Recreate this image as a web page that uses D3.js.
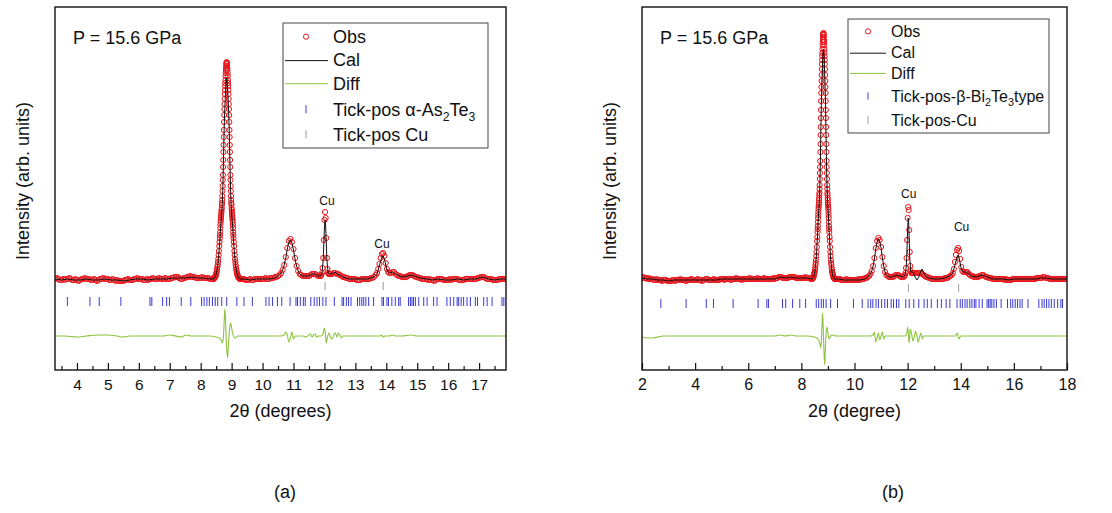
<!DOCTYPE html>
<html>
<head>
<meta charset="utf-8">
<script src="https://cdn.jsdelivr.net/npm/d3@7"></script>
<style>
  body { margin: 0; background: #fff; }
  text { font-family: "Liberation Sans", Arial, sans-serif; fill: #111; }
</style>
</head>
<body>
<div id="chart"></div>
<script>
// ---------------- data (2θ in degrees, intensity in arb. units) ----------------

// observed profile, panel (a): [start 2θ, step, values]
const obsA = [
  [3.3, 0.05, [1,2,1,0,0,1,0,1,1,2, 1,0,0,1,0,-1,0,1,1,2, 1,1,1,0,0,1,0,-1,0,1, 1,2,1,1,1,0,0,1,0,-1,
               0,-1,-1,-1,-1,0,0,1,0,0, 0,1,1,2,1,1,1,0,0,1, 0,1,1,2,1,1,1,2,1,1, 1,2,1,1,1,2,2,3,3,3,
               2,1,1,2,2,3,3,4,3,3, 3,2,2,2,2,3,2,2,2,2, 1,1]],
  [8.4, 0.01, [1,1,1,2,2,2,3,3,4,5, 6,7,9,11,13,15,18,21,25,29, 34,38]],
  [8.62, 0.005, [42,45,48,52,55,58,60,62,64,66,68,70,72,75,77,80,84,89,94,100,105,113,120,128,135,143,150,
                 158,165,171,176,181,186,190,194,197,200,204,207,210,212,214,216,217, 218,
                 217,216,214,212,210,207,204,200,197,194,190,186,181,176,171,165,158,150,143,135,128,120,
                 113,105,100,94,89,84,80,77,75,72,70,68,66,64,62,60,58,55,52,48,45,42]],
  [9.07, 0.01, [38,34,29,25,21,18,15,13,11,9, 7,6,5,4,3,3,2,2,2,1, 1,1,1,1]],
  [9.35, 0.05, [1,1,0,0,0,1,0,0,1,1, 1,1,1,1,1,2,1,1,2,2, 2,3,3]],
  [10.5, 0.05, [4,5,7,10,15,23,32,39,41,38,31,22,14,9,6,5,4,4]],
  [11.4, 0.05, [4,4,4,5,6,6,6,5,4,4]],
  [11.88, 0.02, [4,5,7,12,22,40,60,68,62,42,22,11,7,6,6,6,6]],
  [12.25, 0.05, [6,7,7,6,6,5,4,3,3]],
  [12.7, 0.05, [2,2,1,1,1,1,1,0,0,0, 1,1,1,1,1,1,2,2,3]],
  [13.66, 0.04, [5,7,11,16,22,26,27,24,17,11,8,7]],
  [14.15, 0.05, [7,8,8,6,5]],
  [14.4, 0.05, [4,4,3,3,3,3,4,5,5,5, 4,3,3,2,2,1,1,1,1,0, 1,0,0,-1,0,1,1,1,1,0, 0,0,0,1,0,1,1,1,1,0,
                0,0,0,1,1,1,1,1,1,1, 1,2,2,3,3,3,2,1,1,1, 1,0,0,0,0,1,1,1,1,1]]
];

const calA = [
  [3.3,1],[3.5,0],[3.7,1],[3.9,0],[4.1,0],[4.3,1],[4.5,0],[4.7,0],[4.9,1],[5.1,0],[5.3,0],[5.5,-1],[5.7,0],
  [5.9,1],[6.1,1],[6.3,0],[6.5,1],[6.7,1],[6.9,1],[7.1,2],[7.3,2],[7.5,2],[7.7,3],[7.9,2],[8.1,2],[8.3,1],
  [8.40,1],[8.42,1],[8.44,2],[8.46,3],[8.48,4],[8.50,6],[8.52,8],[8.54,12],[8.56,17],[8.58,23],[8.60,32],
  [8.62,39],[8.64,51],[8.66,59],[8.68,67],[8.70,78],[8.72,97],[8.74,125],[8.76,153],[8.78,172],[8.80,186],
  [8.82,197],[8.84,202],[8.86,197],[8.88,186],[8.90,172],[8.92,153],[8.94,125],[8.96,97],[8.98,78],[9.00,67],
  [9.02,59],[9.04,51],[9.06,39],[9.08,32],[9.10,23],[9.12,17],[9.14,12],[9.16,8],[9.18,6],[9.20,4],[9.22,3],
  [9.24,2],[9.26,1],[9.28,1],
  [9.4,1],[9.6,0],[9.8,1],[10.0,1],[10.2,1],[10.4,2],[10.5,4],[10.6,7],[10.65,10],[10.7,15],[10.75,22],
  [10.8,31],[10.85,38],[10.9,40],[10.95,37],[11.0,30],[11.05,21],[11.1,14],[11.15,9],[11.2,6],[11.3,4],
  [11.4,4],[11.5,4],[11.6,6],[11.7,6],[11.8,4],[11.88,4],[11.92,6],[11.96,20],[12.0,52],[12.02,60],
  [12.04,54],[12.08,20],[12.12,7],[12.16,6],[12.2,6],[12.3,7],[12.35,8],[12.4,6],[12.5,5],[12.6,3],[12.8,1],
  [13.0,1],[13.2,1],[13.4,1],[13.6,3],[13.7,6],[13.78,15],[13.86,23],[13.9,24],[13.94,21],[14.02,10],
  [14.1,7],[14.2,8],[14.3,6],[14.5,3],[14.7,4],[14.8,5],[14.9,4],[15.1,2],[15.3,1],[15.5,0],[15.7,1],
  [15.9,0],[16.1,0],[16.3,1],[16.5,0],[16.7,1],[16.9,1],[17.1,3],[17.3,1],[17.5,0],[17.7,1],[17.87,1]
];

const diffA = [
  [3.3,0],[3.6,0],[4.0,-1],[4.3,0],[4.7,1],[5.0,1],[5.3,0],[5.5,-1],[5.7,0],[6.0,0],[6.3,0],[6.5,0],
  [6.8,0],[7.0,1],[7.2,0],[7.4,-1],[7.5,1],[7.7,0],[7.9,0],[8.1,0],[8.3,0],[8.5,-1],[8.6,-2],[8.66,-4],
  [8.70,-7],[8.73,-3],[8.76,15],[8.78,27],[8.80,18],[8.82,0],[8.84,-12],[8.87,-22],[8.89,-12],[8.92,2],
  [8.95,11],[8.97,13],[9.0,8],[9.03,3],[9.07,-1],[9.12,-2],[9.2,0],[9.4,0],[9.6,0],[9.8,0],[10.0,0],
  [10.2,0],[10.4,0],[10.6,0],[10.7,1],[10.75,4],[10.8,1],[10.85,-6],[10.9,-2],[10.95,4],[11.0,-3],
  [11.05,0],[11.1,0],[11.2,0],[11.3,0],[11.4,-1],[11.5,1],[11.55,2],[11.6,-1],[11.65,1],[11.7,2],
  [11.75,-1],[11.8,0],[11.9,0],[11.95,2],[12.0,8],[12.03,2],[12.06,-7],[12.1,-1],[12.15,3],[12.2,-2],
  [12.25,-3],[12.3,1],[12.35,3],[12.4,-1],[12.45,3],[12.5,1],[12.55,-2],[12.6,0],[12.8,0],[13.0,0],
  [13.2,0],[13.5,0],[13.8,0],[13.85,1],[13.9,-1],[13.95,0],[14.1,0],[14.2,1],[14.3,0],[14.5,0],[14.8,1],
  [15.0,0],[15.5,0],[16.0,0],[16.5,0],[17.0,0],[17.87,0]
];

const phaseTicksA = [3.69,4.42,4.72,5.42,6.36,6.42,6.77,6.90,6.99,7.37,7.68,8.03,8.11,8.20,8.28,8.38,8.47,
  8.55,8.68,8.84,9.17,9.40,9.67,10.11,10.21,10.32,10.48,10.62,10.89,11.08,11.13,11.22,11.32,11.38,11.56,
  11.67,11.76,11.84,11.95,12.05,12.32,12.57,12.62,12.71,12.78,12.86,13.07,13.14,13.21,13.27,13.34,13.43,
  13.59,13.86,13.91,14.02,14.07,14.18,14.29,14.40,14.45,14.72,14.78,14.83,14.88,14.94,15.05,15.21,15.32,
  15.53,15.64,15.96,16.07,16.18,16.29,16.34,16.42,16.50,16.61,16.72,16.88,16.95,17.15,17.26,17.42,17.74,17.80];
const cuTicksA = [12.02, 13.9];
const cuLabelsA = [[12.08, 75], [13.86, 32]];

// observed profile, panel (b)
const obsB = [
  [2.0, 0.05, [2,3,2,2,1,2,1,1,1,0, 0,1,0,0,0,-1,0,0,0,-1, -1,-1,-1,0,0,-1,0,0,0,1, 0,0,0,-1,0,0,0,1,0,0,
               0,0,1,0,0,-1,0,0,1,1, 0,0,0,0,1,0,0,0,0,1, 1,1,0,1,1,1,1,0,1,1, 1,2,1,1,1,0,1,1,1,1,
               1,2,1,1,1,1,1,2,1,1, 1,1,2,1,1,1,1,1,1,2, 1,2,2,3,3,3,2,2,2,2, 2,3,3,3,3,3,2,2,2,2,
               2,2,2,3,2,2,2,1]],
  [8.4, 0.01, [1,1,2,2,2,3,3,5,6,7, 8,10,12,15,17,20,24,28,33,39, 43]],
  [8.61, 0.005, [48,51,54,58,62,65,68,71,73,75,77,80,82,85,87,91,95,101,107,113,119,128,136,145,153,162,170,
                 179,187,193,199,205,211,216,220,224,227,231,235,238,240,243,245,246, 247,
                 246,245,243,240,238,235,231,227,224,220,216,211,205,199,193,187,179,170,162,153,145,136,
                 128,119,113,107,101,95,91,87,85,82,80,77,75,73,71,68,65,62,58,54,51,48]],
  [9.06, 0.01, [43,39,33,28,24,20,17,15,12,10, 8,7,6,5,3,3,2,2,2,1, 1,1,1,1,1]],
  [9.35, 0.05, [1,1,1,0,0,0,0,1,0,0, 0,0,0,0,0,0,1,0,1,1, 1,2,2]],
  [10.5, 0.05, [3,4,6,9,14,22,32,39,42,40,33,23,14,8,5,4,3,3]],
  [11.4, 0.05, [3,3,4,5,5,5,4,3,3,3]],
  [11.88, 0.02, [4,5,7,12,22,40,62,73,70,50,28,14,9,7,7,7,7]],
  [12.25, 0.05, [7,7,7,7,7,7,6,5,4,3]],
  [12.75, 0.05, [3,2,2,1,1,1,1,1,1,1, 1,1,1,2,2,2,3,4]],
  [13.66, 0.04, [5,7,11,18,25,30,32,29,21,13,9,8]],
  [14.15, 0.05, [8,8,8,6,5]],
  [14.4, 0.05, [4,4,3,3,3,3,4,4,5,5, 4,3,3,2,2,2,1,1,1,1, 1,1,1,1,1,0,1,0,0,0, 0,1,1,1,1,1,1,1,1,1,
                1,1,1,1,1,1,1,1,1,2, 2,2,2,2,3,3,2,2,2,1, 1,1,1,1,1,1,1,1,1,1, 1,1,1]]
];

const calB = [
  [2.0,2],[2.2,1],[2.4,1],[2.6,0],[2.8,0],[3.0,-1],[3.2,0],[3.4,0],[3.6,0],[3.8,0],[4.0,0],[4.2,0],[4.4,0],
  [4.6,0],[4.8,0],[5.0,1],[5.2,1],[5.4,1],[5.6,1],[5.8,1],[6.0,1],[6.2,1],[6.4,1],[6.6,1],[6.8,1],[7.0,1],
  [7.2,3],[7.4,2],[7.6,3],[7.8,2],[8.0,2],[8.2,2],
  [8.39,1],[8.41,1],[8.43,2],[8.45,3],[8.47,4],[8.49,6],[8.51,9],[8.53,14],[8.55,19],[8.57,26],[8.59,36],
  [8.61,45],[8.63,58],[8.65,68],[8.67,77],[8.69,89],[8.71,111],[8.73,143],[8.75,175],[8.77,197],[8.79,212],
  [8.81,224],[8.83,231],[8.85,224],[8.87,212],[8.89,197],[8.91,175],[8.93,143],[8.95,111],[8.97,89],
  [8.99,77],[9.01,68],[9.03,58],[9.05,45],[9.07,36],[9.09,26],[9.11,19],[9.13,14],[9.15,9],[9.17,6],
  [9.19,4],[9.21,3],[9.23,2],[9.25,1],[9.27,1],
  [9.4,1],[9.6,0],[9.8,0],[10.0,0],[10.2,0],[10.4,1],[10.5,3],[10.6,6],[10.65,9],[10.7,14],[10.75,21],
  [10.8,31],[10.85,38],[10.9,41],[10.95,39],[11.0,32],[11.05,22],[11.1,14],[11.15,8],[11.2,5],[11.3,3],
  [11.4,3],[11.5,4],[11.6,5],[11.7,4],[11.8,3],[11.88,4],[11.92,6],[11.96,18],[12.0,50],[12.02,62],
  [12.04,58],[12.08,22],[12.12,8],[12.2,8],[12.28,3],[12.35,0],[12.42,3],[12.5,9],[12.55,11],[12.6,7],
  [12.7,3],[12.8,2],[13.0,1],[13.2,1],[13.4,2],[13.6,4],[13.7,7],[13.78,15],[13.86,23],[13.9,25],
  [13.94,22],[14.02,11],[14.1,8],[14.2,8],[14.3,6],[14.4,4],[14.6,3],[14.8,5],[15.0,3],[15.2,1],[15.4,1],
  [15.6,1],[15.8,0],[16.0,1],[16.2,1],[16.4,1],[16.6,1],[16.8,1],[17.0,2],[17.2,2],[17.4,1],[17.6,1],
  [17.8,1],[18.0,1]
];

const diffB = [
  [2.0,-1],[2.2,-2],[2.4,-2],[2.6,-1],[2.8,0],[3.2,0],[3.6,0],[4.0,0],[4.5,0],[5.0,0],[5.5,0],[6.0,0],
  [6.5,0],[7.0,0],[7.2,1],[7.4,0],[7.6,1],[7.8,0],[8.2,0],[8.5,-1],[8.62,-3],[8.7,-8],[8.73,-12],[8.76,0],
  [8.79,20],[8.8,23],[8.82,10],[8.85,-15],[8.88,-29],[8.9,-15],[8.93,2],[8.96,9],[8.98,7],[9.02,-1],
  [9.05,-3],[9.1,0],[9.2,1],[9.3,0],[9.5,0],[9.8,0],[10.0,0],[10.3,0],[10.6,0],[10.7,1],[10.75,4],
  [10.8,-6],[10.85,-2],[10.9,3],[10.95,-4],[11.0,0],[11.05,4],[11.1,-3],[11.15,0],[11.3,0],[11.5,0],
  [11.7,0],[11.9,0],[11.97,3],[12.0,9],[12.03,2],[12.05,-7],[12.08,0],[12.1,7],[12.15,2],[12.2,-5],
  [12.25,-1],[12.3,5],[12.35,0],[12.4,-6],[12.45,-1],[12.5,3],[12.55,-3],[12.6,0],[12.8,0],[13.0,0],
  [13.3,0],[13.6,0],[13.8,0],[13.87,3],[13.93,-3],[14.0,0],[14.3,0],[14.6,0],[15.0,0],[15.5,0],[16.0,0],
  [16.5,0],[17.0,0],[17.5,0],[18.0,0]
];

const phaseTicksB = [2.71,3.66,4.42,4.69,5.43,6.37,6.70,6.76,7.29,7.41,7.67,7.94,8.16,8.56,8.65,8.75,8.83,
  8.93,9.10,9.36,9.96,10.29,10.51,10.61,10.69,10.81,10.90,11.02,11.14,11.24,11.38,11.47,11.58,11.67,11.93,
  12.06,12.23,12.42,12.62,12.74,12.89,13.12,13.27,13.45,13.59,13.86,13.98,14.06,14.16,14.24,14.34,14.42,
  14.51,14.57,14.69,14.81,14.99,15.05,15.11,15.17,15.25,15.34,15.52,15.76,15.88,15.96,16.05,16.14,16.23,
  16.31,16.53,16.94,17.06,17.14,17.23,17.32,17.41,17.52,17.65,17.77,17.83];
const cuTicksB = [12.03, 13.92];
const cuLabelsB = [[12.04, 82], [14.03, 49]];

const majorA = d3.range(4, 18, 1);
const minorA = d3.range(3.5, 18, 1);
const majorB = d3.range(2, 19, 2);
const minorB = d3.range(3, 18, 2);

// ---------------- drawing ----------------
const svg = d3.select("#chart").append("svg").attr("width", 1112).attr("height", 513);

const FONT = '"Liberation Sans", Arial, sans-serif';
const RED = "#e8161c", GREEN = "#8cc43e", BLUE = "#3a3ad8", GRAY = "#9a9a9a";
const diffOffset = -56;

function expand(segs) {
  return segs.flatMap(([start, step, vals]) =>
    vals.map((v, i) => [Math.round((start + i * step) * 1000) / 1000, v]));
}

function richText(sel, parts, fs) {
  // parts: strings, or one-element arrays for subscripts
  let low = false;
  parts.forEach(pt => {
    const sub = Array.isArray(pt);
    const t = sel.append("tspan").text(sub ? pt[0] : pt);
    if (sub && !low) { t.attr("dy", fs * 0.28).attr("font-size", fs * 0.68); low = true; }
    else if (sub) { t.attr("font-size", fs * 0.68); }
    else if (low) { t.attr("dy", -fs * 0.28); low = false; }
  });
}

function drawPanel(p) {
  const g = svg.append("g");
  const x = d3.scaleLinear().domain(p.domain).range([p.left, p.right]);
  const y = d3.scaleLinear().domain([-90, 273]).range([370, 7]);

  svg.append("clipPath").attr("id", "clip-" + p.id)
    .append("rect").attr("x", p.left).attr("y", 7)
    .attr("width", p.right - p.left).attr("height", 363);
  const plot = g.append("g").attr("clip-path", `url(#clip-${p.id})`);

  // difference curve
  plot.append("path").datum(p.diff)
    .attr("fill", "none").attr("stroke", GREEN).attr("stroke-width", 1.1)
    .attr("d", d3.line().curve(d3.curveMonotoneX).x(d => x(d[0])).y(d => y(d[1] + diffOffset)));

  // reflection markers
  plot.selectAll("line.ph").data(p.phaseTicks).join("line").attr("class", "ph")
    .attr("x1", d => x(d)).attr("x2", d => x(d))
    .attr("y1", y(p.blueRow[0])).attr("y2", y(p.blueRow[1]))
    .attr("stroke", BLUE).attr("stroke-width", 1);
  plot.selectAll("line.cu").data(p.cuTicks).join("line").attr("class", "cu")
    .attr("x1", d => x(d)).attr("x2", d => x(d))
    .attr("y1", y(p.grayRow[0])).attr("y2", y(p.grayRow[1]))
    .attr("stroke", GRAY).attr("stroke-width", 1);

  // observed
  plot.selectAll("circle.obs").data(expand(p.obs)).join("circle").attr("class", "obs")
    .attr("cx", d => x(d[0])).attr("cy", d => y(d[1])).attr("r", 2.6)
    .attr("fill", "none").attr("stroke", RED).attr("stroke-width", 1);

  // calculated
  plot.append("path").datum(p.cal)
    .attr("fill", "none").attr("stroke", "#111").attr("stroke-width", 1)
    .attr("d", d3.line().x(d => x(d[0])).y(d => y(d[1])));

  // Cu labels
  g.selectAll("text.cul").data(p.cuLabels).join("text").attr("class", "cul")
    .attr("x", d => x(d[0])).attr("y", d => y(d[1]))
    .attr("text-anchor", "middle").attr("font-size", 12).text("Cu");

  // x axis
  const ax = g.append("g").attr("transform", "translate(0,370)")
    .call(d3.axisBottom(x).tickValues(p.major).tickSize(-7).tickPadding(9).tickFormat(d3.format("d")));
  ax.select(".domain").remove();
  ax.selectAll("text").attr("font-size", p.tickFs).attr("font-family", FONT).attr("fill", "#111");
  ax.selectAll("line").attr("stroke", "#111").attr("stroke-width", 1.2);
  const mx = g.append("g").attr("transform", "translate(0,370)")
    .call(d3.axisBottom(x).tickValues(p.minor).tickSize(-4).tickFormat(""));
  mx.select(".domain").remove();
  mx.selectAll("line").attr("stroke", "#111").attr("stroke-width", 1.2);

  // frame
  g.append("rect").attr("x", p.left).attr("y", 7)
    .attr("width", p.right - p.left).attr("height", 363)
    .attr("fill", "none").attr("stroke", "#111").attr("stroke-width", 1.4);

  // texts
  g.append("text").attr("x", p.left + 18).attr("y", 44).attr("font-size", 18).text("P = 15.6 GPa");
  g.append("text").attr("x", (p.left + p.right) / 2).attr("y", 417).attr("text-anchor", "middle")
    .attr("font-size", 18).text(p.xTitle);
  g.append("text").attr("transform", `translate(${p.left - 26},181) rotate(-90)`)
    .attr("text-anchor", "middle").attr("font-size", 18).text("Intensity (arb. units)");
  g.append("text").attr("x", p.capX).attr("y", 498).attr("text-anchor", "middle")
    .attr("font-size", 18).text(p.caption);

  // legend
  const L = p.legend;
  g.append("rect").attr("x", L.x).attr("y", L.y).attr("width", L.w).attr("height", L.h)
    .attr("fill", "#fff").attr("stroke", "#444").attr("stroke-width", 1);
  const sx = L.symX;
  g.append("circle").attr("cx", sx).attr("cy", L.rows[0] - L.fs * 0.35).attr("r", 2.6)
    .attr("fill", "none").attr("stroke", RED);
  g.append("line").attr("x1", L.x + 2).attr("x2", L.textX - 5)
    .attr("y1", L.rows[1] - L.fs * 0.3).attr("y2", L.rows[1] - L.fs * 0.3).attr("stroke", "#111");
  g.append("line").attr("x1", L.x + 2).attr("x2", L.textX - 5)
    .attr("y1", L.rows[2] - L.fs * 0.35).attr("y2", L.rows[2] - L.fs * 0.35).attr("stroke", GREEN);
  g.append("line").attr("x1", sx).attr("x2", sx)
    .attr("y1", L.rows[3] - L.fs * 0.6).attr("y2", L.rows[3] - L.fs * 0.15).attr("stroke", BLUE);
  g.append("line").attr("x1", sx).attr("x2", sx)
    .attr("y1", L.rows[4] - L.fs * 0.6).attr("y2", L.rows[4] - L.fs * 0.15).attr("stroke", GRAY);
  L.labels.forEach((parts, i) => {
    const t = g.append("text").attr("x", L.textX).attr("y", L.rows[i]).attr("font-size", L.fs);
    richText(t, parts, L.fs);
  });
}

drawPanel({
  id: "a", left: 55, right: 506, domain: [3.29, 17.87],
  obs: obsA, cal: calA, diff: diffA,
  phaseTicks: phaseTicksA, cuTicks: cuTicksA, cuLabels: cuLabelsA,
  blueRow: [-17, -26], grayRow: [-2, -10],
  major: majorA, minor: minorA, tickFs: 15.5,
  xTitle: "2θ (degrees)", caption: "(a)", capX: 285,
  legend: { x: 283, y: 23, w: 205, h: 125, symX: 306, textX: 333, fs: 18,
            rows: [43, 66, 90, 116, 141],
            labels: [["Obs"], ["Cal"], ["Diff"], ["Tick-pos α-As", ["2"], "Te", ["3"]], ["Tick-pos Cu"]] }
});

drawPanel({
  id: "b", left: 642, right: 1067, domain: [2, 18],
  obs: obsB, cal: calB, diff: diffB,
  phaseTicks: phaseTicksB, cuTicks: cuTicksB, cuLabels: cuLabelsB,
  blueRow: [-19, -28], grayRow: [-4, -12],
  major: majorB, minor: minorB, tickFs: 16,
  xTitle: "2θ (degree)", caption: "(b)", capX: 893,
  legend: { x: 848, y: 19, w: 201, h: 114, symX: 868, textX: 891, fs: 16,
            rows: [37, 58, 79, 102, 126],
            labels: [["Obs"], ["Cal"], ["Diff"], ["Tick-pos-β-Bi", ["2"], "Te", ["3"], "type"], ["Tick-pos-Cu"]] }
});
</script>
</body>
</html>
